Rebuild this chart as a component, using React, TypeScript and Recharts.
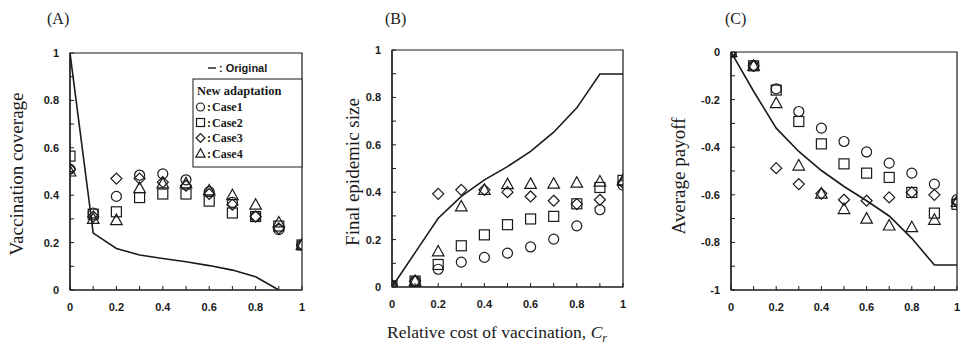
import React from 'react';
import { ComposedChart, Line, Scatter, XAxis, YAxis, ReferenceArea } from 'recharts';

// ---------- data ----------
const costs = [0, 0.1, 0.2, 0.3, 0.4, 0.5, 0.6, 0.7, 0.8, 0.9, 1];
const xTicks = [0, 0.1, 0.2, 0.3, 0.4, 0.5, 0.6, 0.7, 0.8, 0.9, 1];
const yTicksPos = [0, 0.1, 0.2, 0.3, 0.4, 0.5, 0.6, 0.7, 0.8, 0.9, 1];
const yTicksNeg = [-1, -0.9, -0.8, -0.7, -0.6, -0.5, -0.4, -0.3, -0.2, -0.1, 0];

// (A) Vaccination coverage
const coverageOriginal = [1, 0.24, 0.175, 0.148, 0.133, 0.119, 0.103, 0.084, 0.056, 0, null];
const coverageCase1 = [0.51, 0.325, 0.395, 0.485, 0.49, 0.465, 0.415, 0.37, 0.31, 0.255, 0.19];
const coverageCase2 = [0.565, 0.32, 0.33, 0.39, 0.405, 0.405, 0.375, 0.325, 0.31, 0.27, 0.19];
const coverageCase3 = [0.51, 0.31, 0.47, 0.47, 0.455, 0.44, 0.405, 0.36, 0.31, 0.26, 0.19];
const coverageCase4 = [0.5, 0.3, 0.295, 0.43, 0.45, 0.45, 0.42, 0.4, 0.36, 0.285, 0.19];

// (B) Final epidemic size
const epidemicOriginal = [0, 0.145, 0.29, 0.382, 0.452, 0.508, 0.572, 0.653, 0.756, 0.899, 0.899];
const epidemicCase1 = [0.005, 0.025, 0.075, 0.105, 0.125, 0.143, 0.169, 0.202, 0.258, 0.326, 0.43];
const epidemicCase2 = [0.005, 0.025, 0.095, 0.174, 0.22, 0.263, 0.287, 0.298, 0.351, 0.42, 0.45];
const epidemicCase3 = [0.005, 0.025, 0.393, 0.41, 0.41, 0.4, 0.382, 0.364, 0.35, 0.368, 0.44];
const epidemicCase4 = [0.005, 0.025, 0.15, 0.34, 0.41, 0.434, 0.435, 0.436, 0.44, 0.445, 0.45];

// (C) Average payoff
const payoffOriginal = [0, -0.165, -0.32, -0.418, -0.498, -0.565, -0.625, -0.689, -0.783, -0.895, -0.895];
const payoffCase1 = [0, -0.058, -0.155, -0.25, -0.32, -0.376, -0.42, -0.467, -0.509, -0.555, -0.62];
const payoffCase2 = [0, -0.058, -0.16, -0.292, -0.386, -0.47, -0.509, -0.527, -0.59, -0.677, -0.64];
const payoffCase3 = [0, -0.058, -0.488, -0.555, -0.595, -0.621, -0.625, -0.611, -0.59, -0.6, -0.63];
const payoffCase4 = [0, -0.058, -0.215, -0.477, -0.595, -0.66, -0.7, -0.729, -0.736, -0.705, -0.63];

const buildRows = (orig: (number | null)[], c1: number[], c2: number[], c3: number[], c4: number[]) =>
  costs.map((x, i) => ({ x, orig: orig[i], c1: c1[i], c2: c2[i], c3: c3[i], c4: c4[i] }));

const rowsA = buildRows(coverageOriginal, coverageCase1, coverageCase2, coverageCase3, coverageCase4);
const rowsB = buildRows(epidemicOriginal, epidemicCase1, epidemicCase2, epidemicCase3, epidemicCase4);
const rowsC = buildRows(payoffOriginal, payoffCase1, payoffCase2, payoffCase3, payoffCase4);

// ---------- styling ----------
const INK = '#1a1a1a';
const SANS = '"Liberation Sans", Arial, sans-serif';
const SERIF = '"Liberation Serif", "Times New Roman", serif';

type Kind = 'circle' | 'square' | 'diamond' | 'triangle';

const Marker = ({ kind, cx, cy, s = 1 }: { kind: Kind; cx: number; cy: number; s?: number }) => {
  const common = { fill: 'none', stroke: INK, strokeWidth: 1.2 };
  if (kind === 'circle') return <circle cx={cx} cy={cy} r={5 * s} {...common} />;
  if (kind === 'square') return <rect x={cx - 5 * s} y={cy - 5 * s} width={10 * s} height={10 * s} {...common} />;
  if (kind === 'diamond')
    return (
      <path
        d={`M${cx},${cy - 5.5 * s}L${cx + 5.5 * s},${cy}L${cx},${cy + 5.5 * s}L${cx - 5.5 * s},${cy}Z`}
        {...common}
      />
    );
  return (
    <path
      d={`M${cx},${cy - 6 * s}L${cx + 5.8 * s},${cy + 4.5 * s}L${cx - 5.8 * s},${cy + 4.5 * s}Z`}
      {...common}
    />
  );
};

const shapeOf = (kind: Kind) => (p: any) => {
  if (p == null || p.cx == null || p.cy == null || isNaN(p.cx) || isNaN(p.cy)) return <g />;
  return <Marker kind={kind} cx={p.cx} cy={p.cy} />;
};

const YTick = (props: any) => {
  const { x, y, payload, index } = props;
  return (
    <g>
      <line x1={x} x2={x + 4} y1={y} y2={y} stroke={INK} strokeWidth={1} />
      {index % 2 === 0 && (
        <text
          x={x - 11}
          y={y}
          textAnchor="end"
          dominantBaseline="central"
          fontFamily={SANS}
          fontWeight="bold"
          fontSize={11}
          fill={INK}
        >
          {String(payload.value)}
        </text>
      )}
    </g>
  );
};

const XTick = (props: any) => {
  const { x, y, payload, index } = props;
  return (
    <g>
      <line x1={x} x2={x} y1={y} y2={y - 4} stroke={INK} strokeWidth={1} />
      {index % 2 === 0 && (
        <text
          x={x}
          y={y + 17}
          textAnchor="middle"
          dominantBaseline="central"
          fontFamily={SANS}
          fontWeight="bold"
          fontSize={11}
          fill={INK}
        >
          {String(payload.value)}
        </text>
      )}
    </g>
  );
};

type PanelProps = {
  left: number;
  width: number;
  margin: { top: number; right: number; bottom: number; left: number };
  yAxisWidth: number;
  yDomain: [number, number];
  yTicks: number[];
  rows: any[];
};

const Panel = ({ left, width, margin, yAxisWidth, yDomain, yTicks, rows }: PanelProps) => (
  <div style={{ position: 'absolute', left, top: 0 }}>
    <ComposedChart width={width} height={354} data={rows} margin={margin}>
      <XAxis
        type="number"
        dataKey="x"
        domain={[0, 1]}
        ticks={xTicks}
        interval={0}
        tickSize={0}
        tickMargin={0}
        tick={<XTick />}
        axisLine={{ stroke: INK, strokeWidth: 1.2 }}
        height={30}
        allowDataOverflow
      />
      <YAxis
        type="number"
        domain={yDomain}
        ticks={yTicks}
        interval={0}
        tickSize={0}
        tickMargin={0}
        tick={<YTick />}
        axisLine={{ stroke: INK, strokeWidth: 1.2 }}
        width={yAxisWidth}
        allowDataOverflow
      />
      <ReferenceArea
        x1={0}
        x2={1}
        y1={yDomain[0]}
        y2={yDomain[1]}
        fill="none"
        stroke={INK}
        strokeWidth={1.2}
        ifOverflow="visible"
      />
      <Line
        dataKey="orig"
        type="linear"
        stroke={INK}
        strokeWidth={1.6}
        dot={false}
        activeDot={false}
        isAnimationActive={false}
      />
      <Scatter dataKey="c1" shape={shapeOf('circle')} isAnimationActive={false} />
      <Scatter dataKey="c2" shape={shapeOf('square')} isAnimationActive={false} />
      <Scatter dataKey="c3" shape={shapeOf('diamond')} isAnimationActive={false} />
      <Scatter dataKey="c4" shape={shapeOf('triangle')} isAnimationActive={false} />
    </ComposedChart>
  </div>
);

const legendRows: { kind: Kind; label: string }[] = [
  { kind: 'circle', label: 'Case1' },
  { kind: 'square', label: 'Case2' },
  { kind: 'diamond', label: 'Case3' },
  { kind: 'triangle', label: 'Case4' },
];

const Overlay = () => (
  <svg
    width={961}
    height={354}
    style={{ position: 'absolute', left: 0, top: 0, pointerEvents: 'none' }}
  >
    {/* panel labels */}
    <text x={47} y={24} fontFamily={SERIF} fontSize={16} fill={INK}>(A)</text>
    <text x={385} y={24} fontFamily={SERIF} fontSize={16} fill={INK}>(B)</text>
    <text x={725} y={24} fontFamily={SERIF} fontSize={16} fill={INK}>(C)</text>

    {/* y-axis titles */}
    <text
      x={16}
      y={174}
      transform="rotate(-90 16 174)"
      textAnchor="middle"
      dominantBaseline="central"
      fontFamily={SERIF}
      fontSize={19}
      fill={INK}
    >
      Vaccination coverage
    </text>
    <text
      x={352}
      y={172}
      transform="rotate(-90 352 172)"
      textAnchor="middle"
      dominantBaseline="central"
      fontFamily={SERIF}
      fontSize={19}
      fill={INK}
    >
      Final epidemic size
    </text>
    <text
      x={678}
      y={176}
      transform="rotate(-90 678 176)"
      textAnchor="middle"
      dominantBaseline="central"
      fontFamily={SERIF}
      fontSize={19}
      fill={INK}
    >
      Average payoff
    </text>

    {/* shared x-axis title */}
    <text x={497} y={338} textAnchor="middle" fontFamily={SERIF} fontSize={17.5} fill={INK}>
      Relative cost of vaccination,{' '}
      <tspan fontStyle="italic">C</tspan>
      <tspan fontStyle="italic" fontSize={12} dy={4}>r</tspan>
    </text>

    {/* legend in panel A */}
    <line x1={208} x2={216} y1={68} y2={68} stroke={INK} strokeWidth={1.4} />
    <text x={219} y={68} dominantBaseline="central" fontFamily={SANS} fontWeight="bold" fontSize={11} fill={INK}>
      : Original
    </text>
    <rect x={193} y={79} width={109} height={88} fill="#fff" stroke={INK} strokeWidth={1} />
    <text x={197} y={91} dominantBaseline="central" fontFamily={SERIF} fontWeight="bold" fontSize={12.5} fill={INK}>
      New adaptation
    </text>
    {legendRows.map((r, i) => {
      const cy = 107 + i * 15.5;
      return (
        <g key={r.label}>
          <Marker kind={r.kind} cx={200.5} cy={cy} s={0.8} />
          <text x={207} y={cy} dominantBaseline="central" fontFamily={SERIF} fontWeight="bold" fontSize={12} fill={INK}>
            :
          </text>
          <text x={212} y={cy} dominantBaseline="central" fontFamily={SERIF} fontWeight="bold" fontSize={12} fill={INK}>
            {r.label}
          </text>
        </g>
      );
    })}
  </svg>
);

export default function App() {
  return (
    <div
      style={{
        position: 'absolute',
        left: 0,
        top: 0,
        width: 961,
        height: 354,
        background: '#fff',
        overflow: 'hidden',
      }}
    >
      <Panel
        left={0}
        width={320}
        margin={{ top: 53, right: 18, bottom: 34, left: 0 }}
        yAxisWidth={70}
        yDomain={[0, 1]}
        yTicks={yTicksPos}
        rows={rowsA}
      />
      <Panel
        left={320}
        width={320}
        margin={{ top: 50, right: 17, bottom: 37, left: 0 }}
        yAxisWidth={72}
        yDomain={[0, 1]}
        yTicks={yTicksPos}
        rows={rowsB}
      />
      <Panel
        left={640}
        width={321}
        margin={{ top: 52, right: 4, bottom: 34, left: 0 }}
        yAxisWidth={91}
        yDomain={[-1, 0]}
        yTicks={yTicksNeg}
        rows={rowsC}
      />
      <Overlay />
    </div>
  );
}
